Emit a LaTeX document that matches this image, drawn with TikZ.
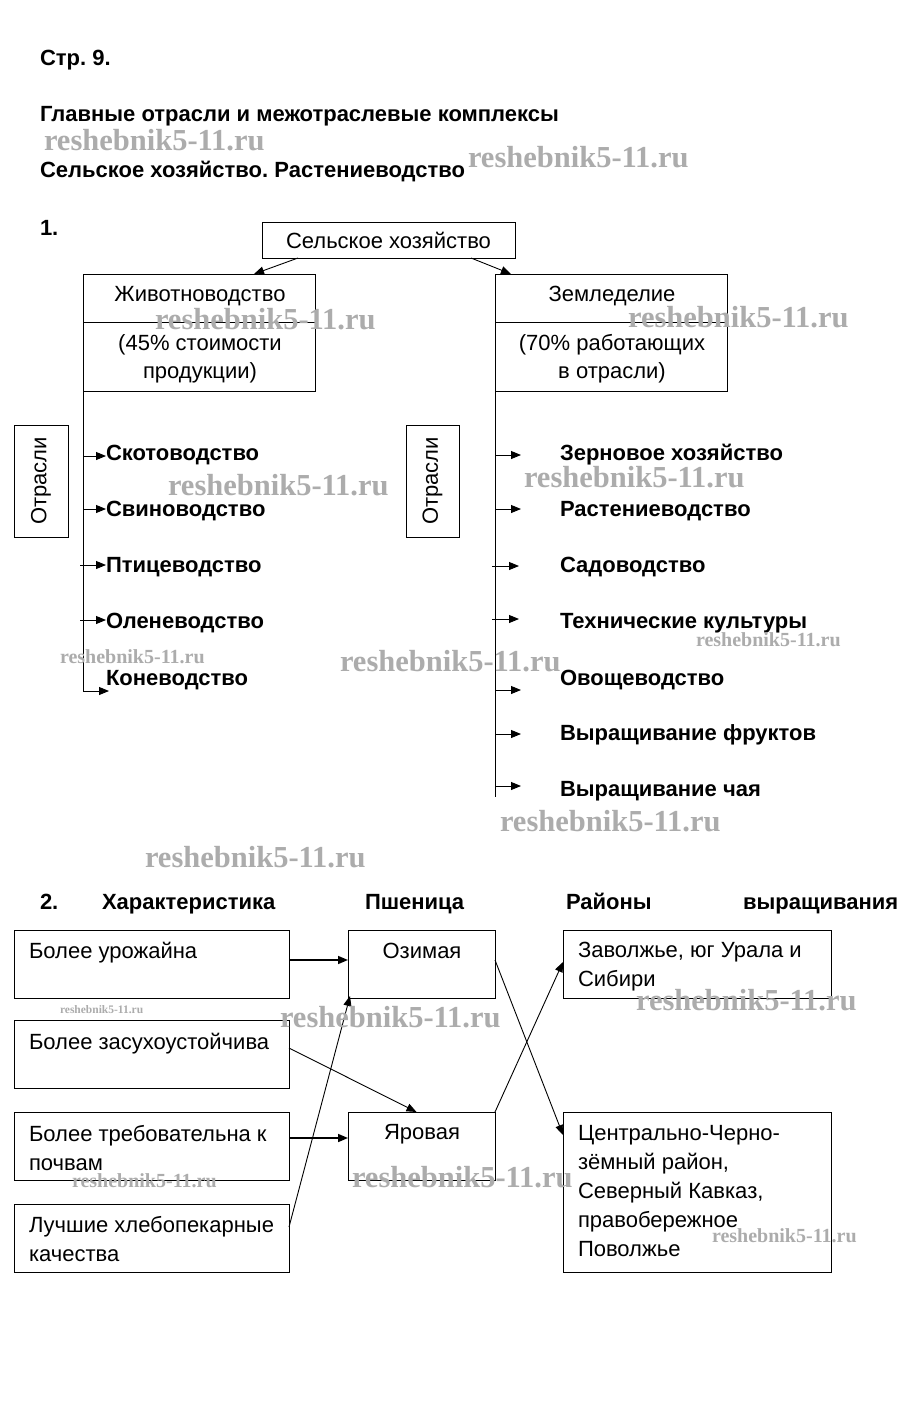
\documentclass[tikz,border=0pt]{standalone}
\usepackage{fontspec}
\setmainfont{Liberation Sans}
\newfontfamily\wmfont{Liberation Serif}
\usetikzlibrary{arrows.meta}
\frenchspacing
\begin{document}
\begin{tikzpicture}[x=1pt,y=-1pt,
 every node/.style={inner sep=0pt, outer sep=0pt},
 txt/.style={font=\fontsize{22}{29}\selectfont, anchor=north west, align=left},
 btxt/.style={font=\fontsize{22}{25}\selectfont\bfseries, anchor=base west},
 ctxt/.style={font=\fontsize{22}{25}\selectfont},
 box/.style={draw, line width=0.9pt, anchor=north west},
 arr/.style={-{Triangle[length=10pt,width=8pt]}, line width=0.9pt},
 thickarr/.style={-{Triangle[length=10pt,width=8pt]}, line width=1.6pt},
 wm/.style={font=\wmfont\bfseries\fontsize{30.5}{32}\selectfont, text=gray!65, anchor=west},
 wms/.style={wm, font=\wmfont\bfseries\fontsize{20}{22}\selectfont},
 wmt/.style={wm, font=\wmfont\bfseries\fontsize{11.5}{13}\selectfont},
]
\fill[white] (0,0) rectangle (906,1416);
\useasboundingbox (0,0) rectangle (906,1416);

% headers
\node[btxt] (h0) at (40,65) {Стр. 9.};
\node[btxt] (h1) at (40,121) {Главные отрасли и межотраслевые комплексы};
\node[btxt] (h2) at (40,177) {Сельское хозяйство. Растениеводство};
\node[btxt] (n1) at (40,235) {1.};

% part 1
\node[box, minimum width=253, minimum height=36, font=\fontsize{22}{25}\selectfont] (sh) at (262,222) {Сельское хозяйство};
\node[box, minimum width=232, minimum height=117] (zh) at (83,274) {};
\node[box, minimum width=232, minimum height=117] (zem) at (495,274) {};
\draw[line width=0.9pt] ([yshift=-48pt]zh.north west) -- ([yshift=-48pt]zh.north east);
\draw[line width=0.9pt] ([yshift=-48pt]zem.north west) -- ([yshift=-48pt]zem.north east);
\node[ctxt] (zh1) at (200,296) {Животноводство};
\node[ctxt] (zh2) at (200,345) {(45\% стоимости};
\node[ctxt] (zh3) at (200,373) {продукции)};
\node[ctxt] (ze1) at (612,296) {Земледелие};
\node[ctxt] (ze2) at (612,345) {(70\% работающих};
\node[ctxt] (ze3) at (612,373) {в отрасли)};
\draw[arr] ([xshift=36pt]sh.south west) -- ([xshift=-61pt]zh.north east);
\draw[arr] ([xshift=-44pt]sh.south east) -- ([xshift=16pt]zem.north west);

\node[box, minimum width=54, minimum height=112] (ot1) at (14,425) {};
\node[ctxt, rotate=90] (ot1t) at (ot1.center) {Отрасли};
\node[box, minimum width=53, minimum height=112] (ot2) at (406,425) {};
\node[ctxt, rotate=90] (ot2t) at (ot2.center) {Отрасли};

\coordinate (lbot) at (83,692);
\draw[line width=0.9pt] (zh.south west) -- (lbot);
\node[btxt] (l1) at (106,460) {Скотоводство};
\node[btxt] (l2) at (106,516) {Свиноводство};
\node[btxt] (l3) at (106,572) {Птицеводство};
\node[btxt] (l4) at (106,628) {Оленеводство};
\node[btxt] (l5) at (106,685) {Коневодство};
\coordinate (la1) at (83,456);
\coordinate (la2) at (83,509);
\coordinate (la3) at (80,565);
\coordinate (la4) at (80,620);
\coordinate (la5) at (83,691);
\draw[arr] (la1) -- (la1 -| l1.west);
\draw[arr] (la2) -- (la2 -| l2.west);
\draw[arr] (la3) -- (la3 -| l3.west);
\draw[arr] (la4) -- (la4 -| l4.west);
\draw[arr] (la5) -- ++(26,0);

\coordinate (rbot) at (495,797);
\draw[line width=0.9pt] (zem.south west) -- (rbot);
\node[btxt] (r1) at (560,460) {Зерновое хозяйство};
\node[btxt] (r2) at (560,516) {Растениеводство};
\node[btxt] (r3) at (560,572) {Садоводство};
\node[btxt] (r4) at (560,628) {Технические культуры};
\node[btxt] (r5) at (560,685) {Овощеводство};
\node[btxt] (r6) at (560,740) {Выращивание фруктов};
\node[btxt] (r7) at (560,796) {Выращивание чая};
\coordinate (ra1) at (495,455);
\coordinate (ra2) at (495,509);
\coordinate (ra3) at (492,566);
\coordinate (ra4) at (492,619);
\coordinate (ra5) at (495,690);
\coordinate (ra6) at (495,734);
\coordinate (ra7) at (495,786);
\foreach \i in {1,2,5,6,7} {\draw[arr] (ra\i) -- ++(26,0);}
\foreach \i in {3,4} {\draw[arr] (ra\i) -- ++(27,0);}

% part 2
\node[btxt] (n2) at (40,909) {2.};
\node[btxt] (k1) at (102,909) {Характеристика};
\node[btxt] (k2) at (365,909) {Пшеница};
\node[btxt] (k3) at (566,909) {Районы};
\node[btxt] (k4) at (743,909) {выращивания};

\node[box, minimum width=275, minimum height=68] (c1) at (14,930) {};
\node[box, minimum width=275, minimum height=68] (c2) at (14,1020) {};
\node[box, minimum width=275, minimum height=68] (c3) at (14,1112) {};
\node[box, minimum width=275, minimum height=68] (c4) at (14,1204) {};
\node[txt] (c1t) at (29,942) {Более урожайна};
\node[txt] (c2t) at (29,1033) {Более засухоустойчива};
\node[txt] (c3t) at (29,1125) {Более требовательна к\\почвам};
\node[txt] (c4t) at (29,1216) {Лучшие хлебопекарные\\качества};

\node[box, minimum width=147, minimum height=68] (oz) at (348,930) {};
\node[box, minimum width=147, minimum height=68] (ya) at (348,1112) {};
\node[ctxt] (ozt) at (422,951) {Озимая};
\node[ctxt] (yat) at (422,1134) {Яровая};

\node[box, minimum width=268, minimum height=68] (zv) at (563,930) {};
\node[box, minimum width=268, minimum height=160] (cc) at (563,1112) {};
\node[txt] (zvt) at (578,942) {Заволжье, юг Урала и\\Сибири};
\node[txt] (cct) at (578,1125) {Центрально-Черно-\\зёмный район,\\Северный Кавказ,\\правобережное\\Поволжье};

\draw[thickarr] ([yshift=4pt]c1.east) -- ([yshift=4pt]oz.west);
\draw[thickarr] ([yshift=8pt]c3.east) -- ([yshift=8pt]ya.west);
\draw[arr] ([yshift=6pt]c2.east) -- ([xshift=-5pt]ya.north);
\draw[arr] ([yshift=11pt]c4.east) -- ([xshift=2pt,yshift=2pt]oz.south west);
\draw[arr] ([yshift=4pt]oz.east) -- ([yshift=-23pt]cc.north west);
\draw[arr] (ya.north east) -- ([yshift=2pt]zv.west);

% watermarks
\node[wm] (w1) at (44,140) {reshebnik5-11.ru};
\node[wm] (w2) at (468,157) {reshebnik5-11.ru};
\node[wm] (w3) at (155,319) {reshebnik5-11.ru};
\node[wm] (w4) at (628,317) {reshebnik5-11.ru};
\node[wm] (w5) at (168,485) {reshebnik5-11.ru};
\node[wm] (w6) at (524,477) {reshebnik5-11.ru};
\node[wms] (w7) at (60,657) {reshebnik5-11.ru};
\node[wm] (w8) at (340,661) {reshebnik5-11.ru};
\node[wms] (w9) at (696,640) {reshebnik5-11.ru};
\node[wm] (w10) at (500,821) {reshebnik5-11.ru};
\node[wm] (w11) at (145,857) {reshebnik5-11.ru};
\node[wmt] (w12) at (60,1010) {reshebnik5-11.ru};
\node[wm] (w13) at (280,1017) {reshebnik5-11.ru};
\node[wm] (w14) at (636,1000) {reshebnik5-11.ru};
\node[wms] (w15) at (72,1181) {reshebnik5-11.ru};
\node[wm] (w16) at (352,1177) {reshebnik5-11.ru};
\node[wms] (w17) at (712,1236) {reshebnik5-11.ru};
\end{tikzpicture}
\end{document}
